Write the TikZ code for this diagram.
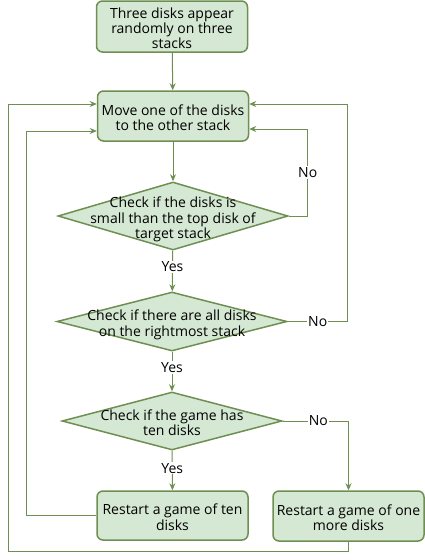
\documentclass[tikz,border=0pt]{standalone}
\usepackage{fontspec}
\setmainfont{Open Sans}
\usetikzlibrary{arrows.meta,positioning,shapes.geometric}
\definecolor{boxfill}{HTML}{D5E8D4}
\definecolor{boxline}{HTML}{6F8F52}
\newcommand{\dtext}[1]{\makebox[0pt]{\smash{\raisebox{-7.5pt}{\begin{tabular}{@{}c@{}}#1\end{tabular}}}}}
\begin{document}
\begin{tikzpicture}[x=1pt,y=-1pt,font=\fontsize{14}{15}\selectfont,
	proc/.style={draw=boxline,fill=boxfill,line width=1.5pt,rounded corners=6pt,
		minimum width=151pt,minimum height=50pt,inner sep=0pt},
	decision/.style={diamond,draw=boxline,fill=boxfill,line width=1.5pt,inner sep=0pt},
	flow/.style={draw=boxline,line width=1pt,-{Stealth[length=7pt,width=6pt]}},
	lbl/.style={fill=white,inner sep=1pt}]
		
		\useasboundingbox (0,0) rectangle (425,560);
		
		\node[proc,minimum height=51pt] (start) at (172,26.5)
		{\dtext{Three disks appear\\randomly on three\\stacks}};
		\node[proc] (move) at (173,116) {\dtext{Move one of the disks\\to the other stack}};
		\node[decision,minimum width=230pt,minimum height=68pt] (chksmall) at (173,216)
		{\dtext{Check if the disks is\\small than the top disk of\\target stack}};
		\node[decision,minimum width=230pt,minimum height=59pt] (chkright) at (172,321.5)
		{\dtext{Check if there are all disks\\on the rightmost stack}};
		\node[decision,minimum width=220pt,minimum height=58pt] (chkten) at (172,421)
		{\dtext{Check if the game has\\ten disks}};
		\node[proc,minimum height=49pt] (restartten) at (172.5,515.5)
		{\dtext{Restart a game of ten\\disks}};
		\node[proc] (restartmore) at (348.5,516) {\dtext{Restart a game of one\\more disks}};
		
		\coordinate (loopL) at (8,551);
		
		\draw[flow] (start) -- (move);
		\draw[flow] (move) -- (chksmall);
		
		\draw[flow] (chksmall.east) -- ++(19,0) |- ([yshift=-13pt]move.east)
		node[lbl,pos=0.25] {No};
		\draw[flow] (chksmall) -- (chkright)
		node[lbl,pos=0.4] {Yes};
		
		\draw[flow] (chkright.east) -- ++(60,0) node[lbl,midway] {No}
		|- ([yshift=12pt]move.east);
		\draw[flow] (chkright) -- (chkten)
		node[lbl,pos=0.4] {Yes};
		
		\draw[flow] (chkten.east) -| (restartmore.north)
		node[lbl,pos=0.27] {No};
		\draw[flow] (chkten) -- (restartten)
		node[lbl,pos=0.44] {Yes};
		
		\draw[flow] (restartten.west) -- ++(-70,0) |- ([yshift=-15pt]move.west);
		\draw[flow] (restartmore.south) |- (loopL) |- ([yshift=12pt]move.west);
		
	\end{tikzpicture}
\end{document}
